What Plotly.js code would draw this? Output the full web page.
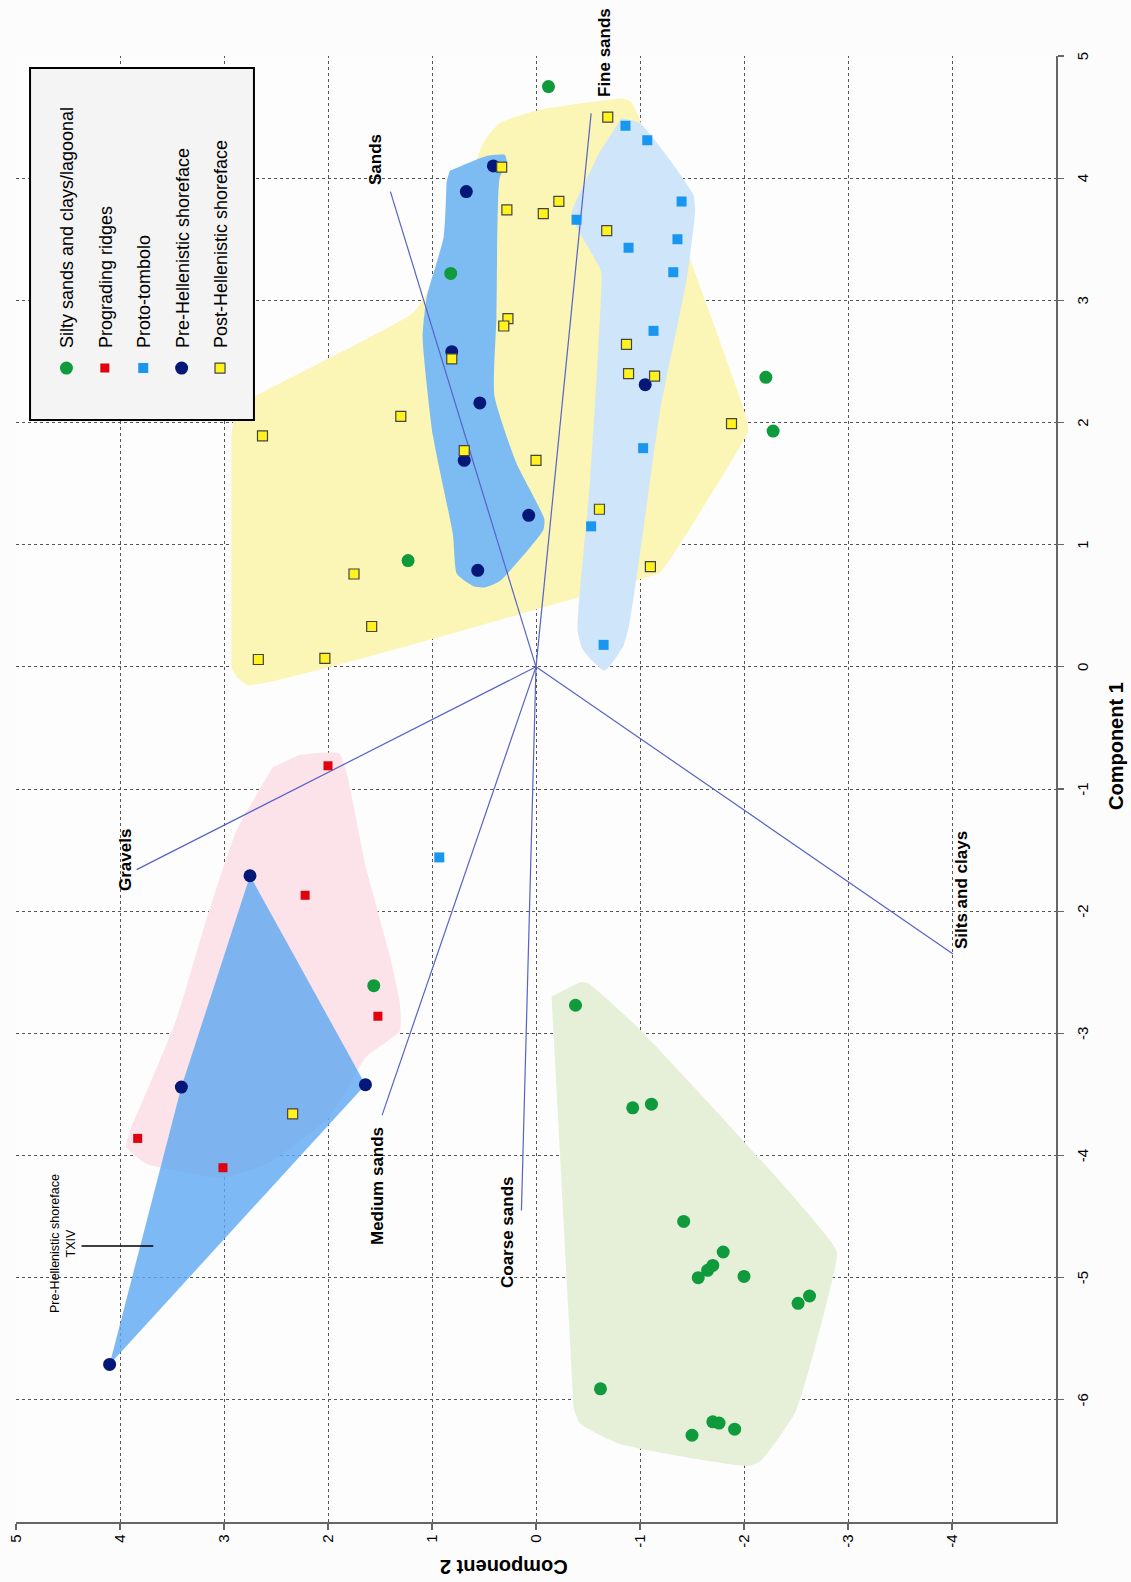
<!DOCTYPE html>
<html>
<head>
<meta charset="utf-8">
<script src="https://cdn.plot.ly/plotly-3.0.1.min.js"></script>
<style>
  html, body { margin: 0; padding: 0; background: #fcfcfc; width: 1131px; height: 1582px; overflow: hidden; }
  #plot { position: absolute; top: 0; left: 0; width: 1582px; height: 1131px;
          transform-origin: 0 0; transform: translateY(1582px) rotate(-90deg); }
</style>
</head>
<body>
<div id="plot"></div>
<script>
// ---- Sample scores (Component 1 = x, Component 2 = y) ----
const siltyX = [4.75, 3.22, 0.87, 2.37, 1.93, -2.61, -2.77, -3.61, -3.58, -4.54, -4.79, -4.90, -4.94, -5.00, -4.99, -5.15, -5.21, -5.91, -6.29, -6.18, -6.19, -6.24];
const siltyY = [-0.12, 0.82, 1.23, -2.21, -2.28, 1.56, -0.38, -0.93, -1.11, -1.42, -1.80, -1.70, -1.65, -1.56, -2.00, -2.63, -2.52, -0.62, -1.50, -1.70, -1.76, -1.91];

const progX = [-0.81, -1.87, -2.86, -3.86, -4.10];
const progY = [2.00, 2.22, 1.52, 3.83, 3.01];

const protoX = [-1.56, 0.18, 1.15, 1.79, 2.75, 3.23, 3.50, 3.43, 3.81, 3.66, 4.43, 4.31];
const protoY = [0.93, -0.65, -0.53, -1.03, -1.13, -1.32, -1.36, -0.89, -1.40, -0.39, -0.86, -1.07];

const preX = [4.10, 3.89, 2.58, 2.16, 1.69, 1.24, 0.79, 2.31, -1.71, -3.42, -3.44, -5.71];
const preY = [0.41, 0.67, 0.81, 0.54, 0.69, 0.07, 0.56, -1.05, 2.75, 1.64, 3.41, 4.10];

const postX = [4.50, 4.09, 3.74, 3.71, 3.81, 3.57, 2.85, 2.79, 2.52, 2.64, 2.40, 2.38, 2.05, 1.89, 1.77, 1.69, 1.99, 1.29, 0.82, 0.76, 0.33, 0.06, 0.07, -3.66];
const postY = [-0.69, 0.33, 0.28, -0.07, -0.22, -0.68, 0.27, 0.31, 0.81, -0.87, -0.89, -1.14, 1.30, 2.63, 0.69, 0.00, -1.88, -0.61, -1.10, 1.75, 1.58, 2.67, 2.03, 2.34];

const groupNames = ["Silty sands and clays/lagoonal", "Prograding ridges", "Proto-tombolo", "Pre-Hellenistic shoreface", "Post-Hellenistic shoreface"];

// ---- Axis ticks ----
const xTickVals = [-6, -5, -4, -3, -2, -1, 0, 1, 2, 3, 4, 5];
const xTickText = ["-6", "-5", "-4", "-3", "-2", "-1", "0", "1", "2", "3", "4", "5"];
const yTickVals = [-4, -3, -2, -1, 0, 1, 2, 3, 4, 5];
const yTickText = ["-4", "-3", "-2", "-1", "0", "1", "2", "3", "4", "5"];

// ---- Variable loadings (vectors from origin) ----
const vecNames = ["Sands", "Fine sands", "Gravels", "Silts and clays", "Medium sands", "Coarse sands"];
const vecX = [3.89, 4.53, -1.66, -2.35, -3.67, -4.45];
const vecY = [1.40, -0.53, 3.84, -4.01, 1.48, 0.14];
const vecLabelX = [4.15, 5.03, -1.58, -1.83, -4.25, -4.63];
const vecLabelY = [1.54, -0.66, 3.95, -4.09, 1.52, 0.27];

// ---- Group envelopes (hull outlines) ----
const hullPostX = [1.89, 2.12, 2.22, 2.90, 3.10, 4.30, 4.45, 4.56, 4.65, 4.62, 3.34, 2.05, 1.93, 1.80, 0.77, 0.74, -0.15, -0.08, 0.00];
const hullPostY = [2.93, 2.88, 2.69, 1.18, 1.02, 0.50, 0.35, -0.04, -0.84, -0.92, -1.48, -2.02, -2.04, -1.96, -1.19, -1.09, 2.77, 2.88, 2.93];

const hullProtoX = [4.49, 4.45, 3.87, 3.74, 3.18, 2.08, 1.11, 0.36, 0.17, -0.03, 0.14, 0.30, 1.52, 3.21, 3.27, 3.65, 3.71, 4.21];
const hullProtoY = [-0.82, -1.00, -1.51, -1.53, -1.45, -1.19, -1.03, -0.90, -0.84, -0.66, -0.45, -0.40, -0.52, -0.63, -0.61, -0.36, -0.34, -0.61];

const hullPreX = [4.06, 4.18, 4.19, 4.13, 4.00, 2.87, 2.22, 1.67, 1.21, 1.12, 0.70, 0.65, 0.66, 0.76, 1.09, 1.89, 2.70, 3.03, 3.51, 3.97];
const hullPreY = [0.83, 0.48, 0.30, 0.28, 0.35, 0.38, 0.40, 0.19, -0.08, -0.07, 0.35, 0.49, 0.60, 0.76, 0.80, 0.99, 1.09, 1.05, 0.89, 0.86];

const hullSiltyX = [-2.70, -2.58, -2.59, -2.97, -4.78, -4.94, -6.09, -6.50, -6.54, -6.36, -6.19, -6.06];
const hullSiltyY = [-0.15, -0.44, -0.50, -1.00, -2.89, -2.87, -2.50, -2.16, -2.03, -0.80, -0.42, -0.36];

const hullProgX = [-0.72, -0.71, -0.87, -1.66, -2.35, -2.75, -2.98, -3.19, -3.68, -4.07, -4.18, -4.13, -4.07, -3.93, -3.79, -3.55, -2.89, -2.07, -1.34, -0.82];
const hullProgY = [2.27, 1.89, 1.82, 1.63, 1.41, 1.31, 1.31, 1.63, 1.98, 2.59, 3.01, 3.42, 3.74, 3.94, 3.90, 3.78, 3.46, 3.17, 2.88, 2.53];

const hullTxivX = [-1.71, -3.42, -5.71, -3.44];
const hullTxivY = [2.75, 1.64, 4.10, 3.41];

const txivLabel = "Pre-Hellenistic shoreface<br>TXIV";
const txivLabelPos = [-4.72, 4.55];
const txivPointerX = [-4.74, -4.74];
const txivPointerY = [4.37, 3.68];

// ---- Build traces ----
const FONT = '"Liberation Sans", Arial, Helvetica, sans-serif';
function hull(x, y, color) {
  return { x: x, y: y, type: 'scatter', mode: 'lines', fill: 'toself', fillcolor: color,
           line: { width: 0, shape: 'spline', smoothing: 0.5, color: color },
           hoverinfo: 'skip', showlegend: false };
}
const traces = [
  hull(hullPostX, hullPostY, '#fbf5b6'),
  hull(hullProtoX, hullProtoY, '#cfe5f9'),
  hull(hullPreX, hullPreY, '#7dbcf2'),
  hull(hullSiltyX, hullSiltyY, '#e6efd8'),
  hull(hullProgX, hullProgY, '#fce3ea'),
  { x: hullTxivX, y: hullTxivY, type: 'scatter', mode: 'lines', fill: 'toself',
    fillcolor: 'rgba(96,170,242,0.82)', line: { width: 0 }, hoverinfo: 'skip', showlegend: false }
];

// vectors
const vx = [], vy = [];
for (let i = 0; i < vecX.length; i++) { vx.push(0, vecX[i], null); vy.push(0, vecY[i], null); }
traces.push({ x: vx, y: vy, type: 'scatter', mode: 'lines', line: { color: '#5763c6', width: 1.2 },
              hoverinfo: 'skip', showlegend: false });

const markerDefs = [
  { x: siltyX, y: siltyY, marker: { symbol: 'circle', size: 13, color: '#0f9a3c' } },
  { x: progX, y: progY, marker: { symbol: 'square', size: 9, color: '#e0000e' } },
  { x: protoX, y: protoY, marker: { symbol: 'square', size: 10, color: '#1996f0' } },
  { x: preX, y: preY, marker: { symbol: 'circle', size: 13, color: '#051877' } },
  { x: postX, y: postY, marker: { symbol: 'square', size: 10, color: '#fff21e', line: { width: 1.2, color: '#444' } } }
];
markerDefs.forEach((d, i) => {
  traces.push({ x: d.x, y: d.y, type: 'scatter', mode: 'markers', name: groupNames[i],
                legendgroup: 'g' + i, marker: d.marker });
});

// annotations (labels whose anchor would sit beyond the axis range are pulled in and shifted)
const annotations = vecNames.map((n, i) => {
  const inX = Math.min(vecLabelX[i], 4.99);
  return {
    x: inX, y: vecLabelY[i], xref: 'x', yref: 'y', text: n, showarrow: false,
    xshift: (vecLabelX[i] - inX) * 122.2,
    xanchor: 'center', yanchor: 'middle', font: { family: FONT, size: 17, color: '#000', weight: 'bold' }
  };
});
annotations.push({ x: txivLabelPos[0], y: txivLabelPos[1], xref: 'x', yref: 'y', text: txivLabel,
  showarrow: false, xanchor: 'center', yanchor: 'middle',
  font: { family: FONT, size: 12.5, color: '#000' } });
annotations.push({ x: 0.529, y: -0.058, xref: 'paper', yref: 'paper', text: 'Component 1',
  showarrow: false, xanchor: 'center', yanchor: 'middle',
  font: { family: FONT, size: 20, color: '#000', weight: 'bold' } });
annotations.push({ x: -0.0307, y: 0.531, xref: 'paper', yref: 'paper', text: 'Component 2',
  showarrow: false, xanchor: 'center', yanchor: 'middle', textangle: -90,
  font: { family: FONT, size: 20, color: '#000', weight: 'bold' } });

const shapes = [
  { type: 'line', xref: 'x', yref: 'y', x0: txivPointerX[0], y0: txivPointerY[0], x1: txivPointerX[1], y1: txivPointerY[1],
    line: { color: '#000', width: 1.5 } },
  { type: 'rect', xref: 'paper', yref: 'paper', x0: 0.7517, x1: 0.9918, y0: 0.7712, y1: 0.9865,
    fillcolor: '#f4f4f4', line: { color: '#000', width: 2 }, layer: 'above' }
];

const axisCommon = {
  showgrid: true, gridcolor: '#555', griddash: 'dot', gridwidth: 1,
  zeroline: false, showline: true, linecolor: '#666', linewidth: 1.5,
  ticks: 'outside', ticklen: 6, tickcolor: '#666', tickwidth: 1.2,
  tickfont: { family: FONT, size: 15, color: '#000' }, fixedrange: true
};

const layout = {
  width: 1582, height: 1131,
  margin: { l: 60, r: 56, t: 16, b: 75 },
  paper_bgcolor: '#fcfcfc', plot_bgcolor: '#fdfdfd',
  font: { family: FONT, color: '#000' },
  xaxis: Object.assign({}, axisCommon, { range: [-7, 5], tickmode: 'array', tickvals: xTickVals, ticktext: xTickText, ticklabelstandoff: 6 }),
  yaxis: Object.assign({}, axisCommon, { range: [-5, 5], tickmode: 'array', tickvals: yTickVals, ticktext: yTickText, ticklabelstandoff: 2 }),
  showlegend: true,
  legend: { x: 0.7735, y: 0.969, xanchor: 'left', yanchor: 'top', bgcolor: 'rgba(0,0,0,0)',
            borderwidth: 0, tracegroupgap: 12, traceorder: 'grouped',
            font: { family: FONT, size: 18, color: '#000' } },
  annotations: annotations,
  shapes: shapes
};

Plotly.newPlot('plot', traces, layout, { staticPlot: true, displayModeBar: false });
</script>
</body>
</html>
